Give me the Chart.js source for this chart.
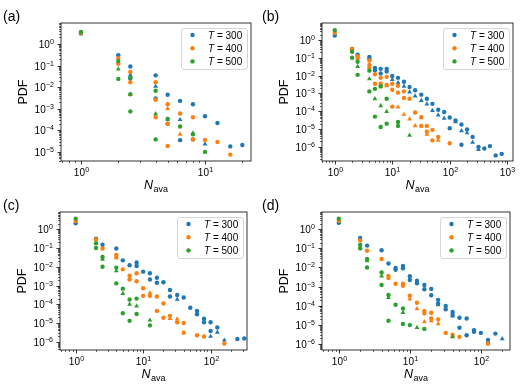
<!DOCTYPE html>
<html>
<head>
<meta charset="utf-8">
<script src="https://cdn.jsdelivr.net/npm/chart.js@4.4.1/dist/chart.umd.min.js"></script>
<style>
  html, body { margin: 0; padding: 0; background: #fff; }
  #fig { position: relative; width: 523px; height: 392px; overflow: hidden; }
  canvas { position: absolute; }
</style>
</head>
<body>
<div id="fig">
  <canvas id="cA" width="261" height="196" style="left:0;top:0"></canvas>
  <canvas id="cB" width="262" height="196" style="left:261px;top:0"></canvas>
  <canvas id="cC" width="261" height="196" style="left:0;top:196px"></canvas>
  <canvas id="cD" width="262" height="196" style="left:261px;top:196px"></canvas>
</div>
<script>
// datos: [N_ava, PDF]
const temps = ['300', '400', '500'];
const colores = ['#1f77b4', '#ff7f0e', '#2ca02c'];

// (a)
const a300 = [[1,3.0],[2,0.3],[2.5,0.09],[2.5,0.025],[4,0.035],[4,0.003],[5,0.0044],[5,0.0002],[6.3,0.0023],[6.3,3.5e-5],[8,0.0016],[8,3.8e-5],[10,0.00045],[12.6,0.00022],[16,1.8e-5],[20,2.1e-5]];
const a300Tri = [[2.5,0.036],[4,0.011],[5,0.00032],[6.3,0.00031],[10,2.3e-5]];
const a400 = [[1,3.3],[2,0.22],[2,0.12],[2.5,0.05],[2.5,0.017],[4,0.017],[4,0.0026],[4,0.0004],[5,0.0016],[5,0.0002],[5,1.9e-5],[6.3,0.0006],[8,0.0004],[8,3.8e-5],[10,3.6e-5],[12.6,2.9e-5],[16,7.5e-6]];
const a400Tri = [[2.5,0.0045],[5,0.001],[6.3,6.5e-5]];
const a500 = [[1,3.6],[2,0.16],[2,0.024],[2.5,0.027],[2.5,0.0047],[2.5,0.00075],[4,0.0068],[4,3.8e-5],[5,0.00034],[6.3,0.00015],[8,6.5e-5],[10,1e-5]];
const a500Tri = [[2,0.068],[4,0.00058],[8,7.5e-5]];

// (b)
const b300 = [[1,1.8],[2,0.3],[2.5,0.15],[4,0.11],[4,0.085],[5,0.027],[5,0.02],[6.3,0.024],[6.3,0.013],[8,0.024],[8,0.017],[10,0.0095],[12.6,0.0075],[16,0.0045],[20,0.0023],[25,0.0015],[32,0.00085],[40,0.0005],[50,0.00026],[63,0.00012],[80,9e-5],[100,4.4e-5],[100,1.1e-5],[126,3e-5],[160,1.8e-5],[160,1.3e-6],[200,9.5e-6],[250,3.6e-6],[316,1e-6],[400,8e-7],[500,1.1e-6],[630,3.3e-7],[800,4e-7]];
const b300Tri = [[10,0.006],[12.6,0.004],[16,0.0025],[20,0.0012],[25,0.0007],[32,0.0004],[40,0.00025],[50,0.00011],[63,6e-5],[80,4e-5],[126,2.5e-5],[160,8e-6],[200,6e-6],[250,1.8e-6],[316,7e-7]];
const b400 = [[1,2.5],[2,0.32],[2.5,0.12],[2.5,0.09],[4,0.07],[4,0.04],[4,0.027],[5,0.012],[5,0.0035],[6.3,0.0075],[6.3,0.0035],[8,0.0085],[8,0.003],[10,0.0035],[10,0.0016],[10,0.00018],[12.6,0.0027],[12.6,0.0011],[16,0.0013],[16,0.00055],[20,0.0005],[25,8.5e-5],[32,4.6e-5],[32,1.5e-5],[40,1.5e-5],[40,7e-6],[50,9e-6],[50,2.3e-6],[63,3.6e-6],[100,1.6e-6]];
const b400Tri = [[6.3,0.0023],[8,0.0027],[12.6,0.00017],[16,6.6e-5],[20,3.6e-5],[25,1.5e-5],[40,5e-6],[63,2.3e-6]];
const b500 = [[1,3.5],[2,0.22],[2,0.1],[2.5,0.06],[2.5,0.011],[4,0.019],[4,0.0013],[5,0.0018],[5,5e-5],[6.3,0.0025],[6.3,1.3e-5],[8,0.0005],[8,2e-5],[12.6,2.5e-5],[12.6,1.5e-5]];
const b500Tri = [[2.5,0.032],[4,0.0065],[5,0.0005],[6.3,0.0002],[8,9.5e-5],[20,4.4e-6]];

// (c)
const c300 = [[1,2.1],[2,0.32],[2.5,0.15],[4,0.095],[5,0.022],[6.3,0.012],[8,0.017],[8,0.011],[10,0.0055],[12.6,0.0045],[12.6,0.0021],[16,0.0026],[16,0.0014],[20,0.0015],[25,0.00058],[25,0.00026],[32,0.00031],[40,0.00023],[50,6.5e-5],[63,4.4e-5],[63,2.9e-5],[80,1.7e-5],[80,1.1e-5],[100,1.1e-5],[100,3.7e-6],[126,5.7e-6],[250,1.4e-6],[316,1.5e-6]];
const c300Tri = [[32,0.00018],[100,1.9e-6],[126,3.2e-6],[160,1.2e-6]];
const c400 = [[1,2.8],[2,0.29],[2.5,0.095],[4,0.043],[4,0.031],[5,0.0073],[6.3,0.0033],[6.3,0.0021],[8,0.0045],[8,0.0017],[10,0.00071],[10,0.00028],[12.6,0.00028],[16,0.00026],[16,4.4e-5],[20,0.00011],[20,1.9e-5],[25,2.4e-5],[32,1.1e-5],[40,1e-5],[40,3e-6],[63,2.2e-6],[80,1.9e-6],[160,8e-7]];
const c400Tri = [[12.6,0.0004],[25,1.7e-5],[32,1.6e-5]];
const c500 = [[1,3.7],[2,0.18],[2,0.1],[2.5,0.033],[2.5,0.01],[4,0.0089],[4,0.0013],[5,0.00068],[5,3.3e-5],[6.3,0.00018],[6.3,1.3e-5],[8,0.0002],[8,3e-5],[12.6,7.4e-6]];
const c500Tri = [[2.5,0.025],[4,0.006],[5,0.00037],[6.3,0.0001],[8,8e-5],[12.6,1.4e-5]];

// (d)
const d300 = [[1,2.2],[2,0.35],[2.5,0.14],[4,0.08],[5,0.016],[6.3,0.0095],[6.3,0.0075],[8,0.012],[8,0.009],[10,0.0035],[10,0.0022],[12.6,0.002],[12.6,0.0015],[16,0.0012],[16,0.00072],[20,0.00075],[20,0.00035],[25,0.0002],[25,0.00013],[32,9.6e-5],[32,6.4e-5],[40,4.6e-5],[40,3.2e-5],[50,2.3e-5],[50,6.9e-6],[63,2.1e-5],[63,2.8e-6],[80,5.2e-6],[80,4.2e-6],[100,3.7e-6],[126,1.6e-6],[160,3.4e-6]];
const d300Tri = [[25,0.00011],[40,2.8e-5],[126,1.3e-6],[200,1.8e-6]];
const d400 = [[1,2.8],[2,0.26],[2.5,0.075],[4,0.028],[5,0.0036],[5,0.0028],[6.3,0.0014],[8,0.0014],[8,0.0011],[10,0.00033],[12.6,0.00014],[16,5.2e-5],[16,3.9e-5],[20,4.2e-5],[20,2.1e-5],[25,1.9e-5],[32,3.7e-6],[40,3e-6],[50,2.3e-6],[126,1e-6]];
const d400Tri = [[10,0.00022],[12.6,6.8e-5],[16,1.4e-5],[20,1.6e-5],[25,1.1e-5],[40,2.5e-6]];
const d500 = [[1,3.6],[2,0.15],[2,0.1],[2.5,0.028],[2.5,0.01],[4,0.0055],[4,0.0012],[5,0.00036],[5,1.6e-5],[6.3,0.00011],[8,7e-5],[8,1.1e-5],[10,9.5e-6],[16,6e-6]];
const d500Tri = [[2.5,0.022],[4,0.0035],[5,0.00026],[8,4.3e-5],[12.6,7e-6],[40,2.3e-6]];

const FONT = '"Liberation Sans", Arial, sans-serif';

function expo(k) {
    return k < 0 ? '\u2212' + (-k) : String(k);
}

// dibuja "10^k" empezando en x0
function potencia(ctx, k, x0, y) {
    ctx.font = '10px ' + FONT;
    ctx.fillText('10', x0, y);
    const w = ctx.measureText('10').width;
    ctx.font = '7px ' + FONT;
    ctx.fillText(expo(k), x0 + w + 0.3, y - 4.2);
}
function anchoPotencia(ctx, k) {
    ctx.font = '10px ' + FONT;
    const w1 = ctx.measureText('10').width;
    ctx.font = '7px ' + FONT;
    return w1 + 0.3 + ctx.measureText(expo(k)).width;
}

// ejes estilo matplotlib, leyenda y etiquetas
const ejesMpl = {
    id: 'ejesMpl',
    afterDraw(chart, args, o) {
        const ctx = chart.ctx;
        const a = chart.chartArea;
        const xs = chart.scales.x, ys = chart.scales.y;
        ctx.save();
        ctx.fillStyle = '#000';
        ctx.strokeStyle = '#000';
        ctx.textBaseline = 'alphabetic';

        // marco
        ctx.lineWidth = 0.8;
        ctx.strokeRect(a.left, a.top, a.right - a.left, a.bottom - a.top);

        // ticks eje x
        const kx0 = Math.floor(Math.log10(xs.min)), kx1 = Math.ceil(Math.log10(xs.max));
        for (let k = kx0; k <= kx1; k++) {
            for (let m = 1; m <= 9; m++) {
                const v = m * Math.pow(10, k);
                if (v < xs.min || v > xs.max) continue;
                const px = Math.round(xs.getPixelForValue(v)) + 0.5;
                ctx.lineWidth = m === 1 ? 0.8 : 0.6;
                ctx.beginPath();
                ctx.moveTo(px, a.bottom);
                ctx.lineTo(px, a.bottom + (m === 1 ? 3.5 : 2));
                ctx.stroke();
                if (m === 1) {
                    const w = anchoPotencia(ctx, k);
                    potencia(ctx, k, px - w / 2, a.bottom + 15);
                }
            }
        }
        // ticks eje y
        const ky0 = Math.floor(Math.log10(ys.min)), ky1 = Math.ceil(Math.log10(ys.max));
        for (let k = ky0; k <= ky1; k++) {
            for (let m = 1; m <= 9; m++) {
                const v = m * Math.pow(10, k);
                if (v < ys.min || v > ys.max) continue;
                const py = Math.round(ys.getPixelForValue(v)) + 0.5;
                ctx.lineWidth = m === 1 ? 0.8 : 0.6;
                ctx.beginPath();
                ctx.moveTo(a.left, py);
                ctx.lineTo(a.left - (m === 1 ? 3.5 : 2), py);
                ctx.stroke();
                if (m === 1) {
                    const w = anchoPotencia(ctx, k);
                    potencia(ctx, k, a.left - 7 - w, py + 3.6);
                }
            }
        }

        // titulo y
        ctx.save();
        ctx.font = '12.5px ' + FONT;
        ctx.textAlign = 'center';
        ctx.translate(a.left - 38, (a.top + a.bottom) / 2);
        ctx.rotate(-Math.PI / 2);
        ctx.fillText('PDF', 0, 4);
        ctx.restore();

        // titulo x: N_ava
        ctx.font = 'italic 12.5px ' + FONT;
        const wN = ctx.measureText('N').width;
        ctx.font = '9px ' + FONT;
        const wS = ctx.measureText('ava').width;
        const cx = (a.left + a.right) / 2 - (wN + wS + 0.5) / 2;
        ctx.font = 'italic 12.5px ' + FONT;
        ctx.fillText('N', cx, a.bottom + 28);
        ctx.font = '9px ' + FONT;
        ctx.fillText('ava', cx + wN + 0.5, a.bottom + 30.5);

        // leyenda
        const lw = 66, lh = 41;
        const lx = a.right - 4 - lw, ly = a.top + 5;
        ctx.beginPath();
        ctx.roundRect(lx + 0.5, ly + 0.5, lw, lh, 2.5);
        ctx.fillStyle = 'rgba(255,255,255,0.8)';
        ctx.fill();
        ctx.strokeStyle = '#cccccc';
        ctx.lineWidth = 0.8;
        ctx.stroke();
        temps.forEach((t, i) => {
            const ry = ly + 7 + i * 13.2;
            ctx.fillStyle = colores[i];
            ctx.beginPath();
            ctx.arc(lx + 11.5, ry, 2.2, 0, Math.PI * 2);
            ctx.fill();
            ctx.fillStyle = '#000';
            ctx.font = 'italic 10px ' + FONT;
            ctx.fillText('T', lx + 27, ry + 3.6);
            const wt = ctx.measureText('T').width;
            ctx.font = '10px ' + FONT;
            ctx.fillText(' = ' + t, lx + 27 + wt, ry + 3.6);
        });

        // etiqueta del panel
        ctx.font = '14px ' + FONT;
        ctx.fillStyle = '#000';
        ctx.fillText(o.etiqueta, o.ex, o.ey);
        ctx.restore();
    }
};

function puntos(arr) {
    return arr.map(p => ({ x: p[0], y: p[1] }));
}

function crearPanel(id, etiqueta, series, xr, yr, caja, ex, ey) {
    const canvas = document.getElementById(id);
    const W = canvas.width, H = canvas.height;
    const datasets = [];
    series.forEach((s, i) => {
        datasets.push({
            data: puntos(s[0]), pointStyle: 'circle', pointRadius: 2.2,
            pointBorderWidth: 0, backgroundColor: colores[i], order: 2 - i
        });
        datasets.push({
            data: puntos(s[1]), pointStyle: 'triangle', pointRadius: 2.8,
            pointBorderWidth: 0, backgroundColor: colores[i], order: 2 - i
        });
    });
    return new Chart(canvas.getContext('2d'), {
        type: 'scatter',
        data: { datasets: datasets },
        options: {
            responsive: false,
            animation: false,
            layout: { padding: { left: caja[0], top: caja[1], right: W - caja[2], bottom: H - caja[3] } },
            scales: {
                x: { type: 'logarithmic', min: xr[0], max: xr[1], display: false },
                y: { type: 'logarithmic', min: yr[0], max: yr[1], display: false }
            },
            plugins: {
                legend: { display: false },
                tooltip: { enabled: false },
                ejesMpl: { etiqueta: etiqueta, ex: ex, ey: ey }
            }
        },
        plugins: [ejesMpl]
    });
}

crearPanel('cA', '(a)', [[a300, a300Tri], [a400, a400Tri], [a500, a500Tri]],
    [0.69, 23.5], [3.8e-6, 9.3], [61, 23, 251, 161], 3, 21);
crearPanel('cB', '(b)', [[b300, b300Tri], [b400, b400Tri], [b500, b500Tri]],
    [0.617, 1260], [1.6e-7, 9.0], [61, 23, 252, 161], 1, 21);
crearPanel('cC', '(c)', [[c300, c300Tri], [c400, c400Tri], [c500, c500Tri]],
    [0.585, 347], [3.6e-7, 8.4], [60, 16, 247, 154], 3, 14);
crearPanel('cD', '(d)', [[d300, d300Tri], [d400, d400Tri], [d500, d500Tri]],
    [0.58, 257], [4.7e-7, 8.1], [61, 16, 249, 154], 1, 14);
</script>
</body>
</html>
